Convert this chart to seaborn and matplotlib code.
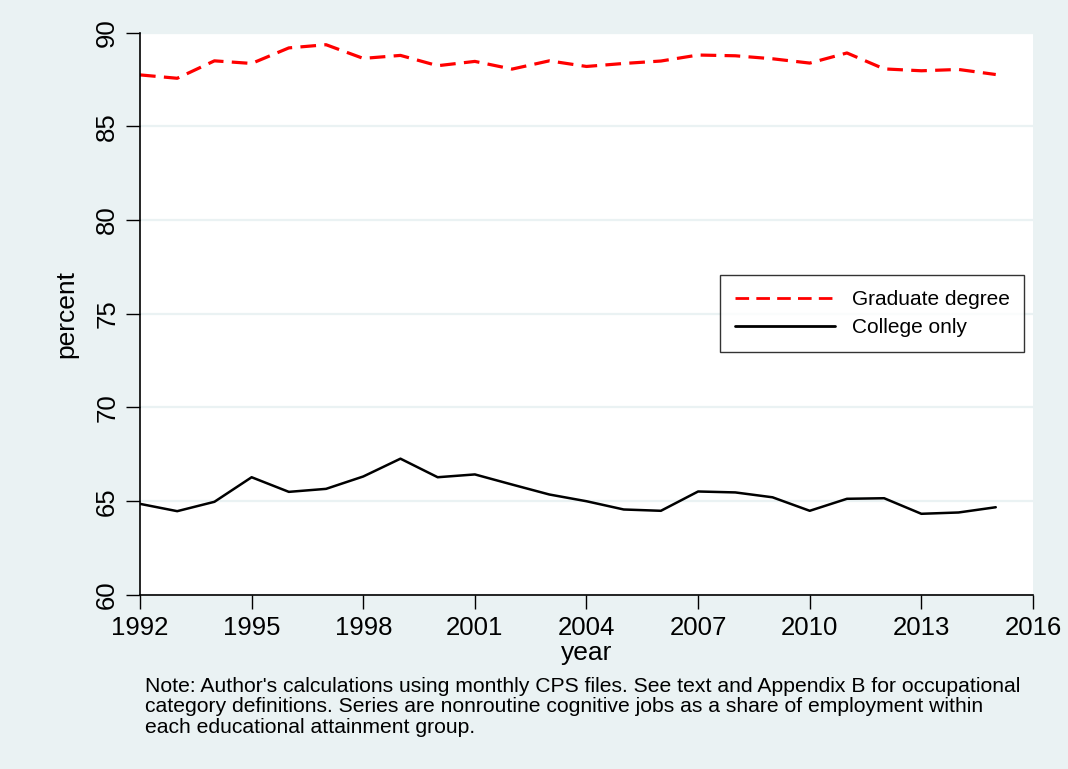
import numpy as np
import pandas as pd
import matplotlib
matplotlib.use("Agg")
import matplotlib.pyplot as plt
import seaborn as sns

years = list(range(1992, 2016))
graduate = [87.74, 87.56, 88.49, 88.35, 89.18, 89.35, 88.62, 88.78, 88.23, 88.46,
            88.05, 88.49, 88.19, 88.35, 88.48, 88.80, 88.76, 88.60, 88.37, 88.91,
            88.06, 87.96, 88.03, 87.76]
college = [64.86, 64.47, 64.97, 66.28, 65.50, 65.66, 66.32, 67.27, 66.28, 66.43,
           65.89, 65.36, 65.00, 64.56, 64.49, 65.52, 65.47, 65.21, 64.49, 65.13,
           65.16, 64.33, 64.40, 64.68]
series_names = ["Graduate degree", "College only"]
x_ticks = [1992, 1995, 1998, 2001, 2004, 2007, 2010, 2013, 2016]
y_ticks = [60, 65, 70, 75, 80, 85, 90]
note = ("Note: Author's calculations using monthly CPS files. See text and Appendix B for occupational\n"
        "category definitions. Series are nonroutine cognitive jobs as a share of employment within\n"
        "each educational attainment group.")

df = pd.DataFrame({
    "year": years * 2,
    "percent": graduate + college,
    "series": [series_names[0]] * len(years) + [series_names[1]] * len(years),
})

sns.set_theme(style="white")
plt.rcParams["font.family"] = ["Liberation Sans", "DejaVu Sans"]
plt.rcParams["text.color"] = "black"
plt.rcParams["axes.labelcolor"] = "black"
plt.rcParams["xtick.color"] = "black"
plt.rcParams["ytick.color"] = "black"

bg = "#EAF2F3"
fig = plt.figure(figsize=(10.68, 7.69), dpi=100, facecolor=bg)
ax = fig.add_axes([0.1311, 0.2263, 0.8361, 0.7314])
ax.set_facecolor("white")

sns.lineplot(data=df, x="year", y="percent", hue="series", style="series",
             palette={series_names[0]: "#FF0000", series_names[1]: "#000000"},
             dashes={series_names[0]: (4.9, 2.6), series_names[1]: ""},
             size="series", sizes={series_names[0]: 2.3, series_names[1]: 1.8},
             ax=ax, legend=True)

ax.set_xlim(1992, 2016)
ax.set_ylim(60, 90)
ax.set_xticks(x_ticks)
ax.set_yticks(y_ticks)
ax.set_yticklabels([str(v) for v in y_ticks], rotation=90, va="center")
ax.tick_params(axis="both", which="both", direction="out", length=10, width=1.0,
               color="black", labelcolor="black", labelsize=18.5, pad=5,
               left=True, bottom=True)
ax.grid(axis="y", color=bg, linewidth=1.6)
ax.grid(axis="x", visible=False)
for s in ["top", "right"]:
    ax.spines[s].set_visible(False)
for s in ["left", "bottom"]:
    ax.spines[s].set_color("black")
    ax.spines[s].set_linewidth(1.2)
ax.set_xlabel("year", fontsize=19, labelpad=1)
ax.set_ylabel("percent", fontsize=19, labelpad=12)

handles, labels = ax.get_legend_handles_labels()
leg = ax.legend(handles=handles, labels=labels, loc="center right",
                bbox_to_anchor=(0.99, 0.5), borderaxespad=0, frameon=True,
                fancybox=False, fontsize=15, handlelength=4.8, handletextpad=0.8,
                borderpad=0.7, labelspacing=0.45, edgecolor="black")
leg.get_frame().set_linewidth(1.0)
leg.get_frame().set_facecolor("white")
for line in leg.get_lines():
    line.set_linewidth(2.0)

fig.text(145 / 1068, 1 - 677 / 769, note, fontsize=15.2, va="top", ha="left",
         linespacing=1.1)

fig.savefig("out.png", dpi=100, facecolor=bg)
